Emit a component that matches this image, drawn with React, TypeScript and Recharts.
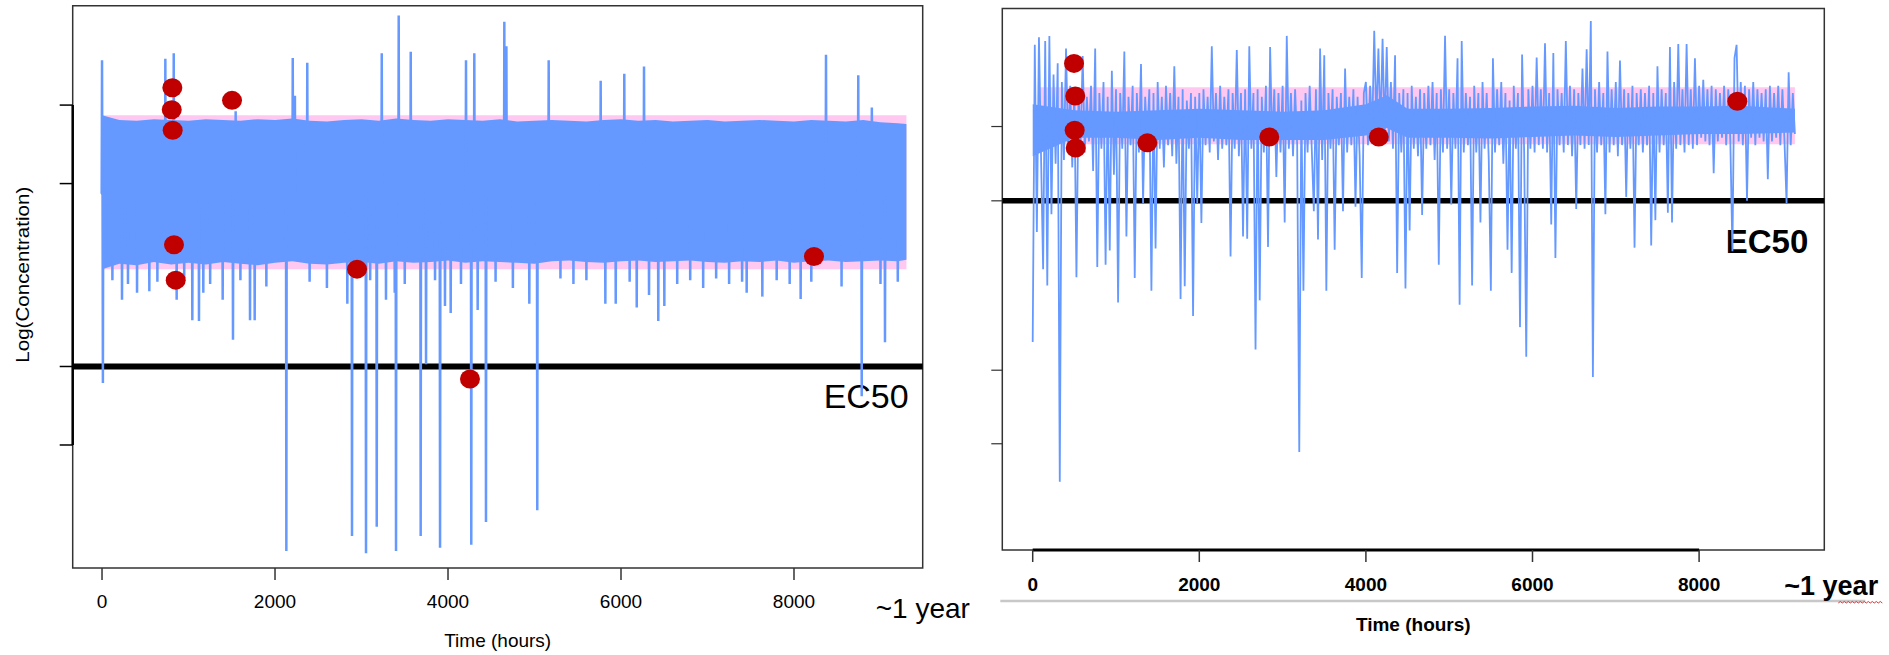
import React from "react";
import {
  ComposedChart,
  Area,
  Line,
  Scatter,
  XAxis,
  YAxis,
  ReferenceLine,
  ReferenceArea,
  Label,
} from "recharts";

const FONT = "'Liberation Sans', Arial, Helvetica, sans-serif";
const BLUE = "#6699ff";
const PINK = "#ffc8f0";
const RED = "#c00000";
const EC50 = 0;

const hourTicks = [0, 2000, 4000, 6000, 8000];

// ---------- left panel (hourly model run) ----------
const leftXDomain = [-339, 9488];
const leftYDomain = [-2.567, 4.596];
const leftYTicks = [-1, 0, 2.33, 3.33];
const leftTarget = [1.24, 3.2];

const leftBandTimes = [
  0, 200, 400, 600, 800, 1000, 1200, 1400, 1600, 1800, 2000, 2200, 2400, 2600, 2800, 3000,
  3200, 3400, 3600, 3800, 4000, 4200, 4400, 4600, 4800, 5000, 5200, 5400, 5600, 5800, 6000,
  6200, 6400, 6600, 6800, 7000, 7200, 7400, 7600, 7800, 8000, 8200, 8400, 8600, 8800, 9000,
  9200, 9300,
];
const leftBandHigh = [
  3.2, 3.14, 3.13, 3.15, 3.14, 3.13, 3.15, 3.14, 3.13, 3.15, 3.14, 3.16, 3.13, 3.12, 3.14, 3.15,
  3.13, 3.16, 3.14, 3.13, 3.15, 3.14, 3.13, 3.15, 3.12, 3.13, 3.14, 3.13, 3.12, 3.14, 3.15,
  3.13, 3.14, 3.12, 3.13, 3.14, 3.12, 3.13, 3.14, 3.13, 3.12, 3.14, 3.13, 3.12, 3.14, 3.11,
  3.1, 3.09,
];
const leftBandLow = [
  1.24, 1.31, 1.29, 1.33, 1.3, 1.32, 1.3, 1.33, 1.31, 1.29, 1.32, 1.34, 1.31, 1.3, 1.32, 1.33,
  1.31, 1.34, 1.32, 1.33, 1.35, 1.32, 1.34, 1.33, 1.32, 1.31, 1.34, 1.35, 1.33, 1.32, 1.34,
  1.35, 1.33, 1.34, 1.35, 1.33, 1.32, 1.34, 1.33, 1.35, 1.32, 1.34, 1.35, 1.33, 1.34, 1.35,
  1.34, 1.36,
];

// excursions that poke out of the band
const leftSpikeTimes = [
  0, 10, 120, 231, 300, 405, 547, 640, 732, 829, 863, 950, 1044, 1121, 1171, 1250, 1395, 1514,
  1545, 1600, 1711, 1765, 1900, 2131, 2205, 2230, 2373, 2400, 2600, 2836, 2890, 3052, 3100,
  3176, 3234, 3283, 3384, 3399, 3430, 3500, 3569, 3684, 3746, 3850, 3908, 3965, 4031, 4150,
  4208, 4269, 4304, 4343, 4439, 4550, 4651, 4675, 4750, 4940, 5032, 5164, 5300, 5450, 5600,
  5765, 5819, 5939, 6038, 6100, 6182, 6266, 6324, 6431, 6501, 6650, 6800, 6950, 7100, 7250,
  7400, 7453, 7634, 7800, 7950, 8077, 8200, 8370, 8550, 8743, 8783, 8900, 9000, 9052, 9200,
];
const leftSpikeValues = [
  3.9, -0.21, 1.1, 0.85, 1.05, 0.94, 0.96, 1.08, 3.92, 3.99, 0.85, 1.12, 0.59, 0.58, 0.94, 1.05,
  0.85, 0.34, 3.25, 1.1, 0.59, 0.59, 1.02, -2.35, 3.93, 3.45, 3.87, 1.08, 1.0, 0.8, -2.16,
  -2.38, 1.1, -2.04, 3.99, 0.85, 0.94, -2.35, 4.47, 1.05, 4.01, -2.16, 0.03, 1.1, -2.31, 0.77,
  0.68, 1.05, 3.9, -2.27, 3.99, 0.72, -1.98, 1.08, 4.39, 4.08, 1.0, 0.8, -1.83, 3.9, 1.12, 1.05,
  1.1, 3.64, 0.8, 0.8, 3.73, 1.08, 0.75, 3.82, 0.91, 0.58, 0.77, 1.05, 1.1, 1.0, 1.12, 1.05,
  1.08, 0.94, 0.89, 1.1, 1.05, 0.86, 1.08, 3.97, 1.02, 3.71, -0.38, 3.3, 1.05, 0.31, 1.08,
];
const leftSpikeBase = 2.2;

const leftDotTimes = [813, 806, 817, 1503, 832, 852, 2948, 4254, 8231];
const leftDotValues = [3.55, 3.27, 3.01, 3.39, 1.55, 1.1, 1.24, -0.16, 1.4];

// ---------- right panel (measured series) ----------
const rightXDomain = [-365, 9503];
const rightYDomain = [-4.7, 2.59];
const rightYTicks = [-3.27, -2.28, 0, 1];
const rightTarget = [0.76, 1.53];
const rightTargetSpan = [80, 9150];

// the densely over-plotted middle of the trace
const rightCoreTimes = [0, 500, 1000, 1500, 2000, 2500, 3000, 3500, 4000, 4250, 4500, 5000, 5500, 6000, 6500, 7000, 7500, 8000, 8500, 9150];
const rightCoreLow = [0.6, 0.85, 0.85, 0.82, 0.85, 0.82, 0.82, 0.82, 0.88, 0.98, 0.85, 0.85, 0.84, 0.86, 0.88, 0.86, 0.88, 0.9, 0.9, 0.92];
const rightCoreHigh = [1.3, 1.22, 1.2, 1.22, 1.24, 1.22, 1.2, 1.22, 1.3, 1.42, 1.24, 1.24, 1.25, 1.27, 1.28, 1.25, 1.27, 1.27, 1.28, 1.24];

const rightStepHours = 25;
const rightConc = [
  // 0 - 475
  -1.9, 2.1, -0.42, 2.2, 0.6, -0.92, 2.15, -1.14, 2.22, -0.18, 1.7, 0.5, 1.85, -3.78, 1.6, 0.55, 2.05, 0.7, 1.55, 0.45,
  // 500 - 975
  1.5, -1.03, 1.45, 0.75, 1.95, 0.65, 1.4, 0.8, 1.55, 0.4, 2.05, -0.89, 1.45, 0.7, 1.6, -0.86, 1.4, -0.67, 1.75, 0.35,
  // 1000 - 1475
  1.5, -1.37, 1.45, 0.7, 2.01, -0.48, 1.4, 0.75, 1.55, -1.04, 1.45, 0.65, 1.84, -0.03, 1.4, 0.8, 1.5, -1.21, 1.45, -0.64,
  // 1500 - 1975
  1.6, 0.7, 1.4, 0.45, 1.55, 0.75, 1.45, 0.6, 1.81, 0.5, 1.4, -1.32, 1.5, -1.15, 1.35, 0.7, 1.45, -1.55, 1.4, -0.03,
  // 2000 - 2475
  1.45, -0.3, 1.5, 0.75, 1.4, 0.65, 2.08, 0.8, 1.45, 0.55, 1.55, 0.7, 1.4, 0.75, 1.5, -0.75, 1.45, 0.7, 2.03, 0.6,
  // 2500 - 2975
  1.45, -0.48, 1.5, -0.51, 2.08, 0.7, 1.45, -2.0, 1.5, -1.34, 1.4, 0.65, 1.55, -0.62, 2.07, 0.75, 1.5, 0.32, 1.45, 0.65,
  // 3000 - 3475
  1.55, -0.29, 2.22, 0.7, 1.45, 0.6, 1.5, 0.75, -3.38, 1.35, -1.21, 1.45, 0.65, 1.55, 0.7, -0.14, 1.5, -0.52, 2.05, 0.55,
  // 3500 - 3975
  1.96, -1.21, 1.45, 0.7, 1.5, -0.66, 1.4, 0.75, 1.45, -0.14, 1.78, 0.65, 1.4, 0.75, 1.5, -0.08, 1.4, 0.6, -1.04, 1.45,
  // 4000 - 4475
  1.6, 0.75, 1.55, 0.9, 2.29, 1.05, 2.05, 0.95, 2.18, 0.9, 2.07, 0.8, 1.6, 0.7, 1.96, -0.97, 1.45, 0.65, 1.5, -1.18,
  // 4500 - 4975
  1.45, -0.4, 1.55, 0.7, 1.4, 0.6, 1.5, -0.19, 1.45, 0.7, 1.55, 0.75, 1.6, 0.55, 1.45, -0.86, 1.5, 0.65, 2.22, 0.7,
  // 5000 - 5475
  1.5, -0.05, 1.45, 0.7, 1.92, -1.4, 2.15, 0.65, 1.45, 0.75, 1.4, -1.14, 1.55, 0.65, 1.45, -0.29, 1.6, 0.7, 1.45, 0.55,
  // 5500 - 5975
  -1.21, 1.92, 0.65, 1.5, 0.75, 1.6, 0.5, 1.45, -0.66, 1.35, -0.97, 1.55, 0.7, 1.45, -1.7, 1.97, 0.65, -2.1, 1.5, 0.7,
  // 6000 - 6475
  1.55, 0.65, 1.93, 0.75, 1.5, 0.7, 2.12, 0.65, 1.45, -0.32, 1.99, -0.77, 1.5, 0.75, 1.45, 0.65, 2.15, 0.75, 1.55, 0.6,
  // 6500 - 6975
  1.5, -0.11, 1.45, 0.75, 1.78, 0.7, 2.04, 0.75, 2.42, -2.37, 1.5, 0.65, 1.6, 0.75, 1.45, -0.18, 2.01, 0.65, 1.5, 0.75,
  // 7000 - 7475
  1.6, 0.6, 1.89, 0.75, 1.5, 0.05, 1.45, 0.7, 1.55, -0.63, 1.45, 0.75, 1.5, 0.65, 1.45, 0.75, 1.55, -0.6, 1.45, -0.26,
  // 7500 - 7975
  1.81, 0.65, 1.5, 0.75, 1.45, -0.16, 2.07, -0.29, 1.6, 0.7, 2.11, 0.75, 1.5, 0.65, 2.11, 0.75, 1.5, 0.7, 1.92, 0.75,
  // 8000 - 8475
  1.55, 0.85, 1.63, 0.8, 1.5, 0.75, 1.55, 0.37, 1.5, 0.8, 1.45, 0.85, 1.55, 0.75, 1.5, 0.8, -0.68, 1.92, 2.1, 0.8,
  // 8500 - 8975
  1.6, 0.75, 1.55, 0.0, 1.5, 0.85, 1.6, 0.75, 1.5, 0.85, 1.45, 0.8, 1.5, 0.29, 1.55, 0.8, 1.45, 0.85, 1.55, 0.75,
  // 9000 - 9150
  1.5, 0.8, -0.03, 1.73, 0.75, 1.45, 0.9,
];

const rightDotTimes = [496, 511, 504, 516, 1376, 2840, 4154, 8459];
const rightDotValues = [1.85, 1.41, 0.95, 0.71, 0.78, 0.86, 0.86, 1.34];

// ---------- derived series ----------
const leftBandData = leftBandTimes.map((t, i) => ({
  t,
  band: [leftBandLow[i], leftBandHigh[i]],
  target: leftTarget,
}));
const leftSpikeData = leftSpikeTimes.flatMap((t, i) => [
  { t: t - 4, v: leftSpikeBase },
  { t, v: leftSpikeValues[i] },
  { t: t + 4, v: leftSpikeBase },
]);
const leftDots = leftDotTimes.map((t, i) => ({ t, v: leftDotValues[i] }));

const rightSeries = rightConc.map((v, i) => ({ t: i * rightStepHours, v }));
const rightTargetData = rightTargetSpan.map((t) => ({ t, target: rightTarget }));
const rightCoreData = rightCoreTimes.map((t, i) => ({ t, core: [rightCoreLow[i], rightCoreHigh[i]] }));
const rightDots = rightDotTimes.map((t, i) => ({ t, v: rightDotValues[i] }));

const dotShape = (p: any) => <ellipse cx={p.cx} cy={p.cy} rx={10} ry={9.5} fill={RED} />;
const noLabel = () => "";

const LeftXLabel = ({ viewBox }: any) => {
  const { x, y, width } = viewBox;
  return (
    <g fontFamily={FONT} fill="#000">
      <text x={x + width / 2} y={y + 79} textAnchor="middle" fontSize={19}>
        Time (hours)
      </text>
      <text x={x + 803} y={y + 50} fontSize={28}>
        ~1 year
      </text>
    </g>
  );
};

const LeftYLabel = ({ viewBox }: any) => {
  const cx = viewBox.x - 30;
  const cy = viewBox.y + 269;
  return (
    <text
      x={cx}
      y={cy}
      transform={`rotate(-90 ${cx} ${cy})`}
      textAnchor="middle"
      dominantBaseline="central"
      fontSize={18}
      textLength={176}
      lengthAdjust="spacingAndGlyphs"
      fontFamily={FONT}
      fill="#000"
    >
      Log(Concentration)
    </text>
  );
};

const RightXLabel = ({ viewBox }: any) => {
  const { x, y, width } = viewBox;
  let squiggle = `M ${x + 836} ${y + 53}`;
  for (let k = 1; k <= 22; k++) squiggle += ` L ${x + 836 + k * 2} ${y + 53 + (k % 2 ? -1.5 : 0)}`;
  return (
    <g fontFamily={FONT} fontWeight="bold" fill="#000">
      <line x1={x - 2} x2={x + 863} y1={y + 51} y2={y + 51} stroke="#c8c8c8" strokeWidth={2.5} />
      <text x={x + width / 2} y={y + 81} textAnchor="middle" fontSize={19}>
        Time (hours)
      </text>
      <text x={x + 782} y={y + 45} fontSize={27}>
        ~1 year
      </text>
      <path d={squiggle} stroke="#e03030" fill="none" strokeWidth={1} />
    </g>
  );
};

const LeftEC50 = ({ viewBox }: any) => (
  <text
    x={viewBox.x + viewBox.width - 14}
    y={viewBox.y + 41.5}
    textAnchor="end"
    fontSize={34}
    fontFamily={FONT}
    fill="#000"
  >
    EC50
  </text>
);

const RightEC50 = ({ viewBox }: any) => (
  <text
    x={viewBox.x + viewBox.width - 16}
    y={viewBox.y + 52}
    textAnchor="end"
    fontSize={33}
    fontWeight="bold"
    fontFamily={FONT}
    fill="#000"
  >
    EC50
  </text>
);

const LeftPanel = () => (
  <ComposedChart width={985} height={655} margin={{ top: 5.7, right: 62.3, bottom: 47, left: 52.7 }}>
    <XAxis
      type="number"
      dataKey="t"
      domain={leftXDomain}
      ticks={hourTicks}
      interval={0}
      allowDataOverflow
      height={40}
      axisLine={false}
      tickSize={12}
      tickMargin={15}
      tickLine={{ stroke: "#333", strokeWidth: 1.5 }}
      tick={{ fontSize: 19, fill: "#000", fontFamily: FONT }}
    >
      <Label content={LeftXLabel} />
    </XAxis>
    <YAxis
      type="number"
      domain={leftYDomain}
      ticks={leftYTicks}
      interval={0}
      allowDataOverflow
      width={20}
      axisLine={false}
      tickFormatter={noLabel}
      tickSize={13}
      tickLine={{ stroke: "#000", strokeWidth: 1.5 }}
    >
      <Label content={LeftYLabel} />
    </YAxis>
    <Area
      data={leftBandData}
      dataKey="target"
      type="linear"
      stroke="none"
      fill={PINK}
      fillOpacity={1}
      isAnimationActive={false}
    />
    <Area
      data={leftBandData}
      dataKey="band"
      type="linear"
      stroke="none"
      fill={BLUE}
      fillOpacity={1}
      isAnimationActive={false}
    />
    <ReferenceLine y={EC50} stroke="#000" strokeWidth={6} label={LeftEC50} />
    <Line
      data={leftSpikeData}
      dataKey="v"
      type="linear"
      stroke={BLUE}
      strokeWidth={2.5}
      dot={false}
      activeDot={false}
      isAnimationActive={false}
    />
    <Scatter data={leftDots} dataKey="v" fill={RED} shape={dotShape} isAnimationActive={false} />
    <ReferenceArea
      x1={leftXDomain[0]}
      x2={leftXDomain[1]}
      y1={leftYDomain[0]}
      y2={leftYDomain[1]}
      fill="none"
      stroke="#333"
      strokeWidth={1.5}
      ifOverflow="visible"
    />
    <ReferenceLine
      segment={[
        { x: leftXDomain[0], y: leftYTicks[0] },
        { x: leftXDomain[0], y: leftYTicks[3] },
      ]}
      stroke="#000"
      strokeWidth={2.5}
      ifOverflow="visible"
    />
  </ComposedChart>
);

const RightPanel = () => (
  <ComposedChart width={904} height={655} margin={{ top: 8.4, right: 64.7, bottom: 65, left: 2.3 }}>
    <XAxis
      type="number"
      dataKey="t"
      domain={rightXDomain}
      ticks={hourTicks}
      interval={0}
      allowDataOverflow
      height={40}
      axisLine={false}
      tickSize={12}
      tickMargin={16}
      tickLine={{ stroke: "#333", strokeWidth: 1.5 }}
      tick={{ fontSize: 19, fill: "#000", fontFamily: FONT, fontWeight: "bold" }}
    >
      <Label content={RightXLabel} />
    </XAxis>
    <YAxis
      type="number"
      domain={rightYDomain}
      ticks={rightYTicks}
      interval={0}
      allowDataOverflow
      width={15}
      axisLine={false}
      tickFormatter={noLabel}
      tickSize={11}
      tickLine={{ stroke: "#333", strokeWidth: 1.2 }}
    />
    <Area
      data={rightTargetData}
      dataKey="target"
      type="linear"
      stroke="none"
      fill={PINK}
      fillOpacity={1}
      isAnimationActive={false}
    />
    <Area
      data={rightCoreData}
      dataKey="core"
      type="linear"
      stroke="none"
      fill={BLUE}
      fillOpacity={1}
      isAnimationActive={false}
    />
    <ReferenceLine y={EC50} stroke="#000" strokeWidth={5.5} label={RightEC50} />
    <Line
      data={rightSeries}
      dataKey="v"
      type="linear"
      stroke={BLUE}
      strokeWidth={1.8}
      dot={false}
      activeDot={false}
      isAnimationActive={false}
    />
    <Scatter data={rightDots} dataKey="v" fill={RED} shape={dotShape} isAnimationActive={false} />
    <ReferenceArea
      x1={rightXDomain[0]}
      x2={rightXDomain[1]}
      y1={rightYDomain[0]}
      y2={rightYDomain[1]}
      fill="none"
      stroke="#333"
      strokeWidth={1.5}
      ifOverflow="visible"
    />
    <ReferenceLine
      segment={[
        { x: hourTicks[0], y: rightYDomain[0] },
        { x: hourTicks[4], y: rightYDomain[0] },
      ]}
      stroke="#000"
      strokeWidth={3}
      ifOverflow="visible"
    />
  </ComposedChart>
);

export default function App() {
  return (
    <div style={{ position: "absolute", left: 0, top: 0, width: 1889, height: 655, background: "#fff" }}>
      <div style={{ position: "absolute", left: 0, top: 0 }}>
        <LeftPanel />
      </div>
      <div style={{ position: "absolute", left: 985, top: 0 }}>
        <RightPanel />
      </div>
    </div>
  );
}
